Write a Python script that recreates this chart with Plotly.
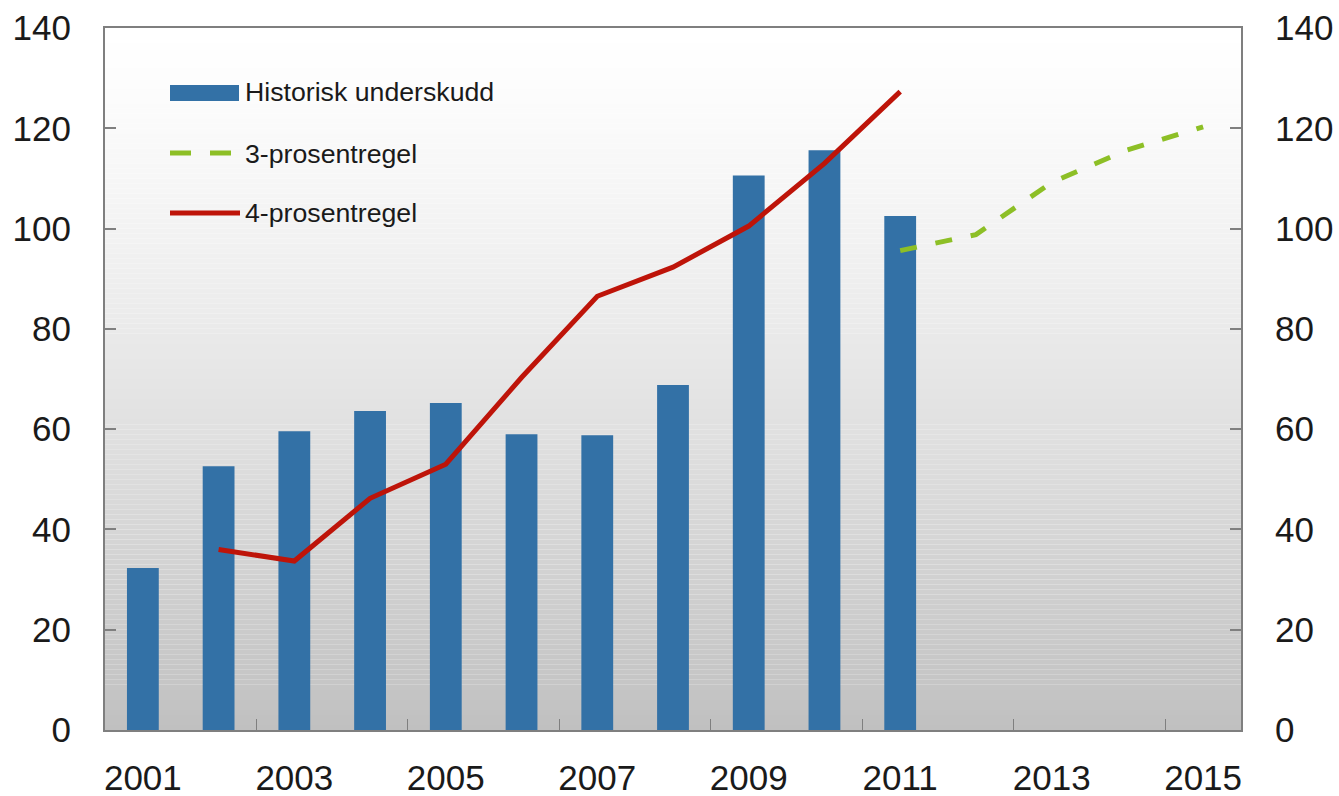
import plotly.graph_objects as go

years = list(range(2001, 2016))
hist_years = list(range(2001, 2012))
hist_values = [32.3, 52.6, 59.6, 63.6, 65.2, 59.0, 58.8, 68.8, 110.6, 115.6, 102.5]
rule4_years = list(range(2002, 2012))
rule4_values = [36.0, 33.7, 46.2, 53.0, 70.3, 86.5, 92.3, 100.5, 113.0, 127.3]
rule3_years = [2011, 2012, 2013, 2014, 2015]
rule3_values = [95.6, 98.8, 109.2, 115.7, 120.3]
x_labels = [str(y) for y in range(2001, 2016, 2)]
y_ticks = list(range(0, 141, 20))

names = ["Historisk underskudd", "3-prosentregel", "4-prosentregel"]
BLUE = "#3371A6"
GREEN = "#8DBF26"
RED = "#BE1409"
AXIS = "#7F7F7F"
FONT = "Liberation Sans"

fig = go.Figure()
fig.add_trace(go.Bar(x=hist_years, y=hist_values, name=names[0], marker_color=BLUE,
                     marker_line_width=0, width=0.42, showlegend=False))
fig.add_trace(go.Scatter(x=rule3_years, y=rule3_values, name=names[1], mode="lines",
                         line=dict(color=GREEN, width=5, dash="17px,19px"),
                         yaxis="y2", showlegend=False))
fig.add_trace(go.Scatter(x=rule4_years, y=rule4_values, name=names[2], mode="lines",
                         line=dict(color=RED, width=5), showlegend=False))

# vertical background gradient (styling only)
shapes = []
n = 140
for i in range(n):
    f = 1 - (i + 0.5) / n  # fraction from top
    g = int(round(255 - 63 * f ** 1.3))
    shapes.append(dict(type="rect", xref="paper", yref="y", x0=0, x1=1,
                       y0=i * 140 / n, y1=(i + 1) * 140 / n,
                       fillcolor=f"rgb({g},{g},{g})", line_width=0, layer="below"))

# manual legend
L, T, H = 105, 28, 702
W = 1136
def px(x):
    return (x - L) / W
def py(y):
    return (T + H - y) / H

shapes.append(dict(type="rect", xref="paper", yref="paper", x0=px(170), x1=px(239),
                   y0=py(101), y1=py(85), fillcolor=BLUE, line_width=0))
shapes.append(dict(type="line", xref="paper", yref="paper", x0=px(170), x1=px(233),
                   y0=py(153), y1=py(153), line=dict(color=GREEN, width=5, dash="21px,19px")))
shapes.append(dict(type="line", xref="paper", yref="paper", x0=px(170), x1=px(240),
                   y0=py(213), y1=py(213), line=dict(color=RED, width=5)))
annotations = []
for name, yy in zip(names, [92, 154, 213]):
    annotations.append(dict(text=name, xref="paper", yref="paper", x=px(243), y=py(yy),
                            xanchor="left", yanchor="middle", showarrow=False,
                            font=dict(family=FONT, size=26.7, color="#1a1a1a")))

fig.update_layout(
    width=1339, height=796,
    margin=dict(l=105, r=98, t=28, b=66, autoexpand=False),
    paper_bgcolor="white", plot_bgcolor="white",
    shapes=shapes, annotations=annotations,
    showlegend=False,
    font=dict(family=FONT, size=35, color="#1a1a1a"),
    xaxis=dict(range=[2000.5, 2015.5], tickmode="array",
               tickvals=[int(v) for v in x_labels], ticktext=x_labels,
               ticks="", showgrid=False, zeroline=False, automargin=False,
               showline=True, mirror=True, linecolor=AXIS, linewidth=2,
               ticklabelstandoff=16,
               minor=dict(tickmode="array", tickvals=[2002.5, 2004.5, 2006.5, 2008.5, 2010.5, 2012.5, 2014.5],
                          ticks="inside", ticklen=11, tickcolor=AXIS, tickwidth=1, showgrid=False)),
    yaxis=dict(range=[0, 140], tickmode="array", tickvals=y_ticks,
               ticks="inside", ticklen=11, tickcolor=AXIS, tickwidth=1.5,
               showgrid=False, zeroline=False, automargin=False,
               showline=True, mirror=True, linecolor=AXIS, linewidth=2,
               ticklabelstandoff=25),
    yaxis2=dict(range=[0, 140], tickmode="array", tickvals=y_ticks, overlaying="y",
                side="right", ticks="inside", ticklen=11, tickcolor=AXIS, tickwidth=1.5,
                showgrid=False, zeroline=False, showline=False, automargin=False,
                ticklabelstandoff=33),
)

fig.write_html("out.html", config={"displayModeBar": False},
               post_script="document.body.style.margin='0';document.body.style.overflow='hidden';")
